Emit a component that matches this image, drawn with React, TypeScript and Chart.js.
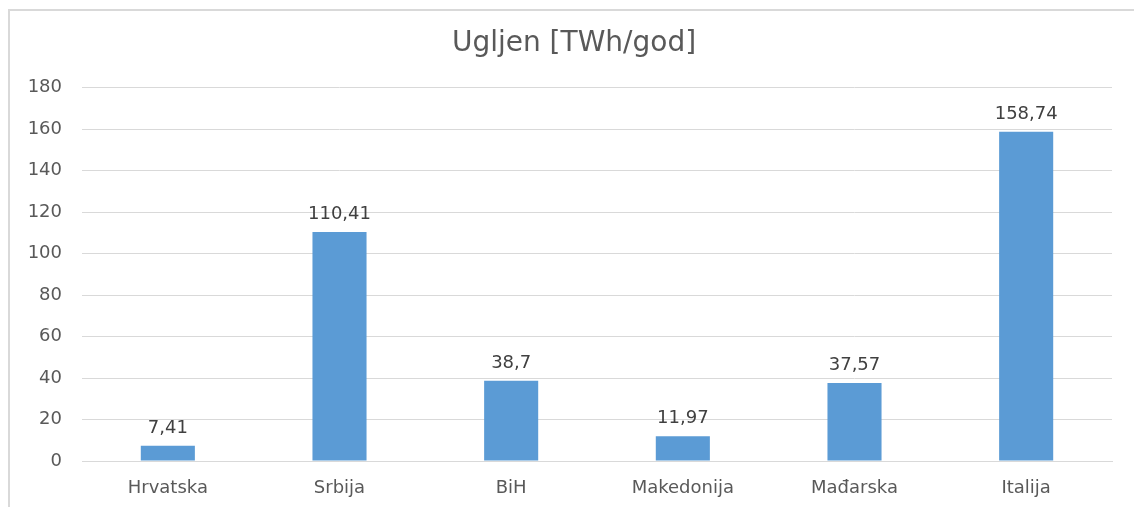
import React, { useEffect, useRef } from "react";
import { Chart, registerables } from "chart.js";

Chart.register(...registerables);

const categories = ["Hrvatska", "Srbija", "BiH", "Makedonija", "Mađarska", "Italija"];
const values = [7.41, 110.41, 38.7, 11.97, 37.57, 158.74];
const valueLabels = ["7,41", "110,41", "38,7", "11,97", "37,57", "158,74"];
const titleText = "Ugljen [TWh/god]";

const FONT = "'DejaVu Sans', 'Noto Sans', sans-serif";
const TEXT = "#595959";

const dataLabelPlugin = {
  id: "dataLabels",
  afterDatasetsDraw(chart: any) {
    const ctx = chart.ctx;
    const meta = chart.getDatasetMeta(0);
    ctx.save();
    ctx.font = `18px ${FONT}`;
    ctx.fillStyle = "#404040";
    ctx.textAlign = "center";
    ctx.textBaseline = "alphabetic";
    meta.data.forEach((bar: any, i: number) => {
      ctx.fillText(valueLabels[i], bar.x, bar.y - 13);
    });
    ctx.restore();
  },
};

export default function App() {
  const ref = useRef<HTMLCanvasElement | null>(null);
  useEffect(() => {
    if (!ref.current) return;
    const chart = new Chart(ref.current, {
      type: "bar",
      data: {
        labels: categories,
        datasets: [
          {
            data: values,
            backgroundColor: "#5B9BD5",
            barPercentage: 0.315,
            categoryPercentage: 1,
          },
        ],
      },
      options: {
        animation: false,
        responsive: true,
        maintainAspectRatio: false,
        layout: { padding: 0 },
        plugins: {
          legend: { display: false },
          tooltip: { enabled: false },
          title: {
            display: true,
            text: titleText,
            color: TEXT,
            font: { family: FONT, size: 28, weight: "normal" },
            padding: { top: 16, bottom: 27 },
          },
        },
        scales: {
          x: {
            grid: { display: false, drawTicks: false },
            border: { display: true, color: "#d9d9d9" },
            ticks: { color: TEXT, font: { family: FONT, size: 18 }, padding: 17 },
            afterFit(scale: any) {
              scale.height = 46;
            },
          },
          y: {
            min: 0,
            max: 180,
            grid: { color: "#d9d9d9", drawTicks: false },
            border: { display: false },
            ticks: { stepSize: 20, color: TEXT, font: { family: FONT, size: 18 }, padding: 20 },
            afterFit(scale: any) {
              scale.width = 72;
            },
          },
          yRight: {
            display: true,
            position: "right",
            min: 0,
            max: 180,
            grid: { display: false, drawTicks: false },
            border: { display: false },
            ticks: { display: false },
            afterFit(scale: any) {
              scale.width = 26;
            },
          },
        },
      },
      plugins: [dataLabelPlugin],
    });
    return () => chart.destroy();
  }, []);

  return (
    <div
      style={{
        position: "absolute",
        left: 8,
        top: 9,
        width: 1126,
        height: 498,
        overflow: "hidden",
      }}
    >
      <div
        style={{
          position: "relative",
          width: 1128,
          height: 496,
          borderTop: "2px solid #d9d9d9",
          borderLeft: "2px solid #d9d9d9",
          background: "#fff",
        }}
      >
        <canvas ref={ref} />
      </div>
    </div>
  );
}
